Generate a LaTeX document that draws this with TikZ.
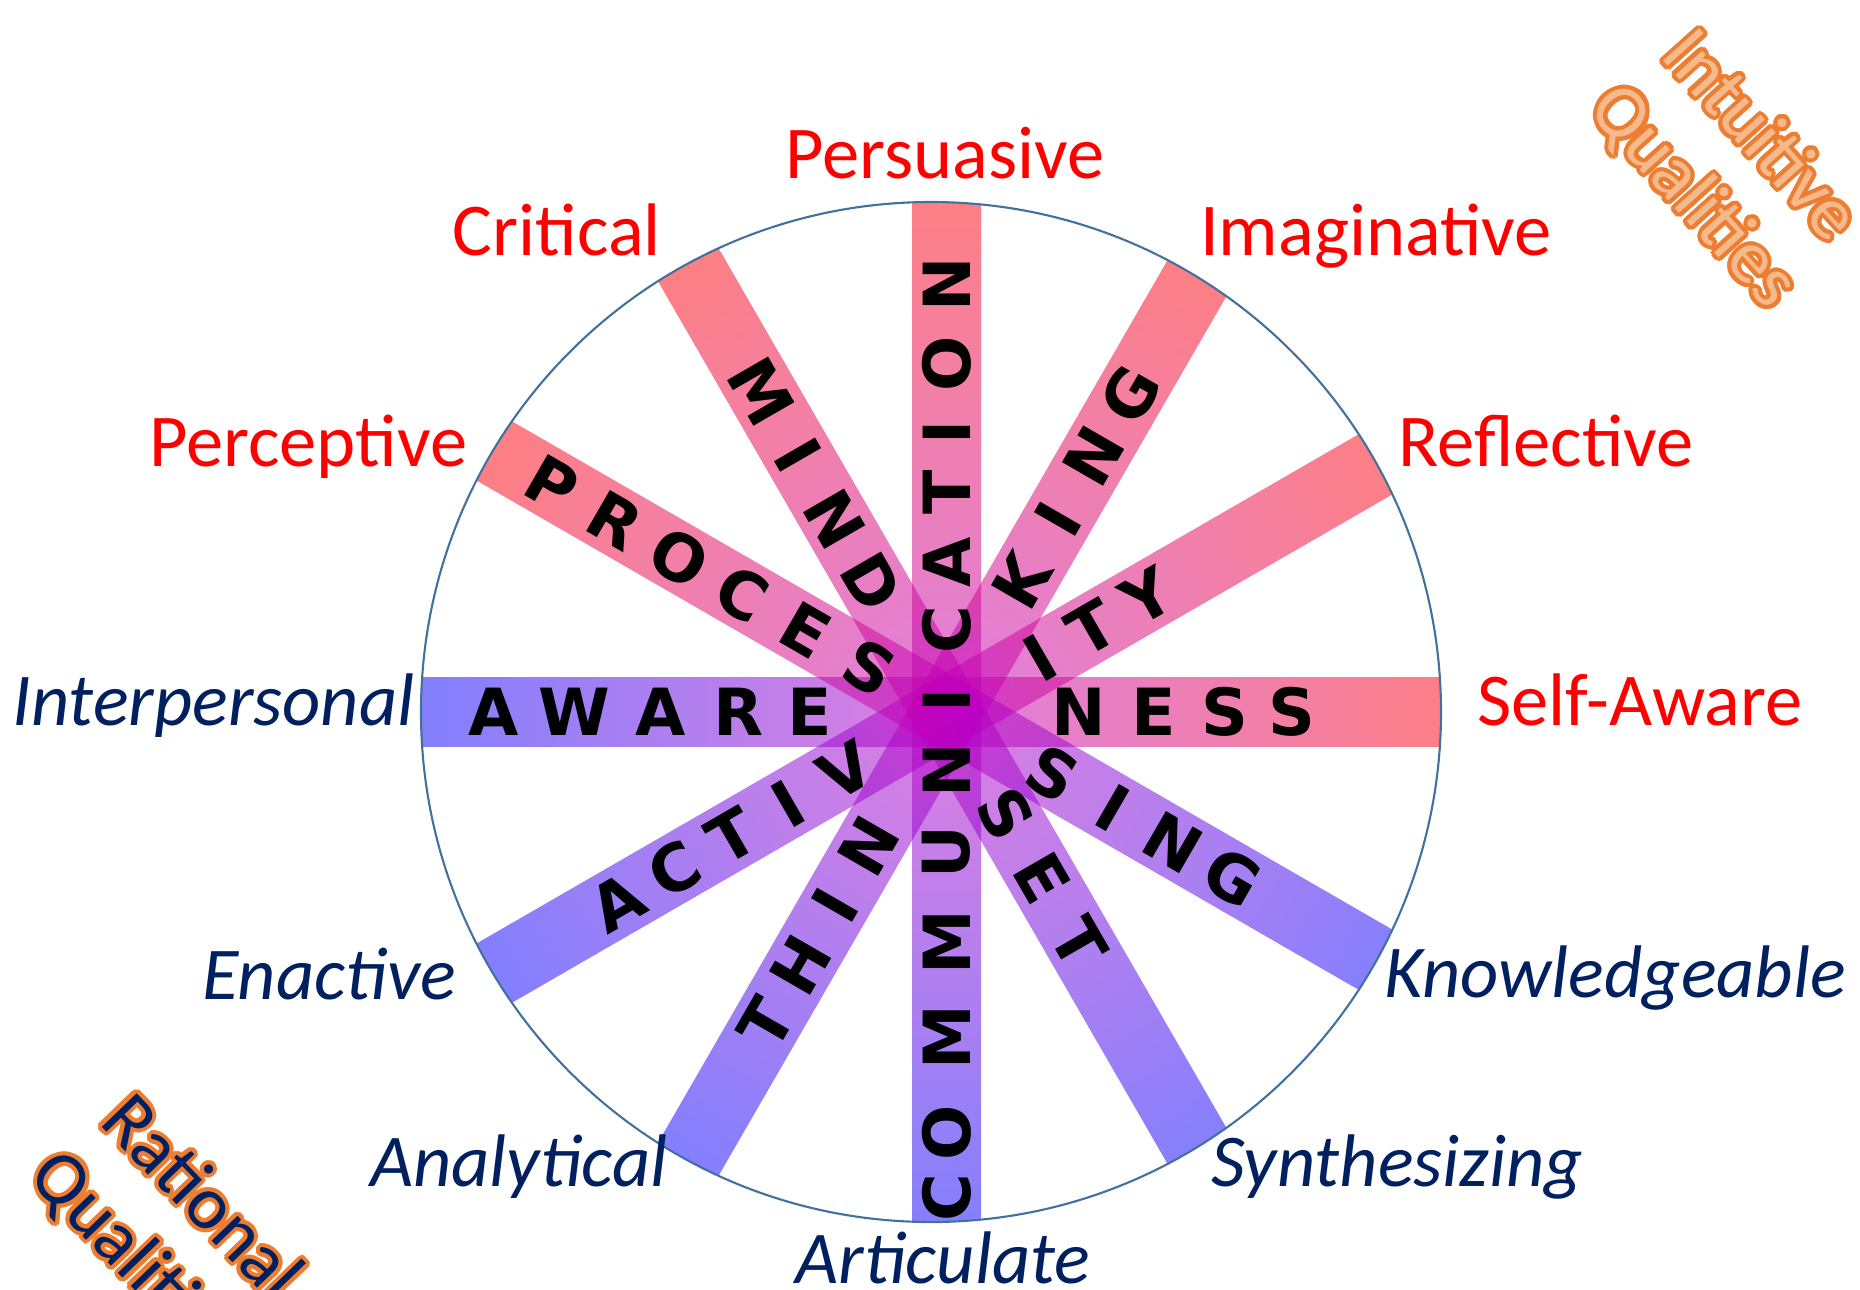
\documentclass[tikz,border=0pt]{standalone}
\usepackage{fontspec}
\setmainfont{Carlito}
\newfontfamily\barfont{DejaVu Sans}
\usetikzlibrary{calc}
\definecolor{qred}{RGB}{255,0,0}
\definecolor{qnavy}{RGB}{0,32,96}
\definecolor{qrim}{RGB}{65,113,156}
\definecolor{qorange}{RGB}{237,125,49}
\definecolor{qpeach}{RGB}{246,185,140}
\definecolor{spokered}{RGB}{255,0,0}
\definecolor{spokemid}{RGB}{192,0,192}
\definecolor{spokeblue}{RGB}{0,0,255}

\begin{document}
\begin{tikzpicture}[
  spoke/.style={left color=spokeblue,right color=spokered,middle color=spokemid,opacity=0.5},
  bar letter/.style={font=\barfont\bfseries\fontsize{18.5}{20}\selectfont,inner sep=0pt},
  warm label/.style={text=qred,font=\fontsize{21.2}{25}\selectfont,anchor=base},
  cool label/.style={text=qnavy,font=\itshape\fontsize{21.2}{25}\selectfont,anchor=base},
  corner/.style={font=\fontsize{21.5}{25.5}\selectfont,align=center,inner sep=0pt}]

  \useasboundingbox (-9.465,-5.77) rectangle (9.135,7.12);
  \coordinate (hub) at (0,0);
  \coordinate (rim) at (-0.155,0);

  % the six bars, cut off at the wheel
  \begin{scope}
    \clip (rim) circle (5.1);
    \foreach \a in {0,30,...,150}{
      \begin{scope}[transform canvas={rotate=\a}]
        \shade[spoke] (-5.4,-0.345) rectangle (5.4,0.345);
      \end{scope}
    }
  \end{scope}
  \draw[qrim,line width=0.6pt] (rim) circle (5.1);

  % words along the bars
  \foreach \c/\d [count=\i] in {A/-4.53,W/-3.72,A/-2.86,R/-2.08,E/-1.37,N/1.32,E/2.07,S/2.78,S/3.45}
    \node[bar letter] (aware\i) at (0:\d) {\c};
  \foreach \c/\d [count=\i] in {C/-4.86,O/-4.21,M/-3.25,M/-2.30,U/-1.40,N/-0.58,I/0.12,C/0.82,A/1.50,T/2.20,I/2.80,O/3.48,N/4.28}
    \node[bar letter,rotate=90] (comm\i) at (90:\d) {\c};
  \foreach \c/\d [count=\i] in {P/4.56,R/3.83,O/3.09,C/2.36,E/1.63,S/0.89,S/-1.23,I/-1.92,N/-2.61,G/-3.30}
    \node[bar letter,rotate=-30] (proc\i) at (150:\d) {\c};
  \foreach \c/\d [count=\i] in {M/3.70,I/2.97,N/2.23,D/1.50,S/-1.18,E/-1.92,T/-2.66}
    \node[bar letter,rotate=-60] (mind\i) at (120:\d) {\c};
  \foreach \c/\d [count=\i] in {T/-3.60,H/-2.92,I/-2.23,N/-1.55,K/1.51,I/2.23,N/2.95,G/3.67}
    \node[bar letter,rotate=60] (think\i) at (60:\d) {\c};
  \foreach \c/\d [count=\i] in {A/-3.80,C/-3.14,T/-2.48,I/-1.83,V/-1.17,I/1.08,T/1.68,Y/2.32}
    \node[bar letter,rotate=30] (act\i) at (30:\d) {\c};

  % qualities round the rim
  \node[warm label] (persuasive) at (-0.015,5.34) {Persuasive};
  \node[warm label] (imaginative) at (4.295,4.57) {Imaginative};
  \node[warm label] (reflective) at (5.995,2.46) {Reflective};
  \node[warm label] (selfaware) at (6.935,-0.13) {Self-Aware};
  \node[warm label] (critical) at (-3.895,4.57) {Critical};
  \node[warm label] (perceptive) at (-6.385,2.46) {Perceptive};
  \node[cool label] (interpersonal) at (-7.33,-0.13) {Interpersonal};
  \node[cool label] (enactive) at (-6.175,-2.87) {Enactive};
  \node[cool label] (analytical) at (-4.275,-4.74) {Analytical};
  \node[cool label] (articulate) at (-0.035,-5.71) {Articulate};
  \node[cool label] (synthesizing) at (4.505,-4.74) {Synthesizing};
  \node[cool label] (knowledgeable) at (6.685,-2.85) {Knowledgeable};

  % corner captions with an orange rim
  \foreach \g in {0,20,...,340}
    \node[corner,text=qorange,rotate=-48] at ($(7.80,5.45)+(\g:0.04)$) {Intuitive\\Qualities};
  \node[corner,text=qpeach,rotate=-48] (intuitive) at (7.80,5.45) {Intuitive\\Qualities};
  \foreach \g in {0,20,...,340}
    \node[corner,text=qorange,rotate=-46] at ($(-7.78,-5.18)+(\g:0.04)$) {Rational\\Qualities};
  \node[corner,text=qnavy,rotate=-46] (rational) at (-7.78,-5.18) {Rational\\Qualities};
\end{tikzpicture}
\end{document}
